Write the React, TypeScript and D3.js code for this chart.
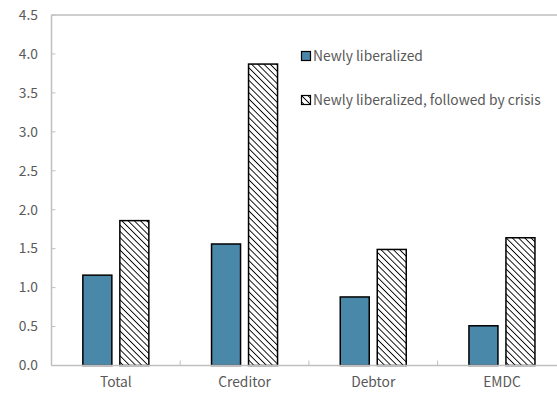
import React from "react";
import * as d3 from "d3";

const categories = ["Total", "Creditor", "Debtor", "EMDC"];
const newlyLiberalized = [1.16, 1.56, 0.88, 0.51];
const followedByCrisis = [1.86, 3.87, 1.49, 1.64];
const yTicks = [0, 0.5, 1, 1.5, 2, 2.5, 3, 3.5, 4, 4.5];
const seriesNames = ["Newly liberalized", "Newly liberalized, followed by crisis"];

const W = 557;
const H = 400;
const left = 51.5;
const top = 15;
const bottom = 365.5;
const right = left + 4 * 128.7;

export default function App() {
  const x = d3.scaleBand<string>().domain(categories).range([left, right]).paddingInner(0).paddingOuter(0);
  const y = d3.scaleLinear().domain([0, 4.5]).range([bottom, top]);
  const bw = 29;
  const gap = 8;
  const font = "'Noto Sans CJK KR', 'Noto Sans', sans-serif";
  const textColor = "#595959";
  const axisColor = "#bfbfbf";
  const blue = "#4a88aa";
  const fs = 13.8;

  return (
    <svg width={W} height={H} style={{ position: "absolute", left: 0, top: 0 }}>
      <defs>
        <pattern id="hatch" patternUnits="userSpaceOnUse" width="4.4" height="4.4" patternTransform="rotate(-45)">
          <rect width="4.4" height="4.4" fill="white" />
          <line x1="0" y1="0" x2="0" y2="4.4" stroke="black" strokeWidth="1.8" />
        </pattern>
      </defs>
      <rect width={W} height={H} fill="white" />
      <line x1={left} x2={W + 20} y1={top} y2={top} stroke={axisColor} strokeWidth={1.5} />
      <line x1={left} x2={left} y1={top} y2={bottom} stroke={axisColor} strokeWidth={1.5} />
      {yTicks.map((t) => (
        <g key={t}>
          <line x1={left} x2={left + 4} y1={y(t)} y2={y(t)} stroke={axisColor} strokeWidth={1} />
          <text x={38} y={y(t)} dy="0.35em" textAnchor="end" fontFamily={font} fontSize={fs} fill={textColor}>
            {t.toFixed(1)}
          </text>
        </g>
      ))}
      {categories.map((c, i) => {
        const cx = (x(c) as number) + x.bandwidth() / 2;
        return (
          <g key={c}>
            <rect x={cx - gap / 2 - bw} y={y(newlyLiberalized[i])} width={bw} height={bottom - y(newlyLiberalized[i])} fill={blue} stroke="black" strokeWidth={1.5} />
            <rect x={cx + gap / 2} y={y(followedByCrisis[i])} width={bw} height={bottom - y(followedByCrisis[i])} fill="url(#hatch)" stroke="black" strokeWidth={1.5} />
            <text x={cx} y={387} textAnchor="middle" fontFamily={font} fontSize={fs} fill={textColor}>
              {c}
            </text>
          </g>
        );
      })}
      <line x1={left} x2={W + 20} y1={bottom} y2={bottom} stroke={axisColor} strokeWidth={1.5} />
      {categories.slice(1).map((c) => (
        <line key={c} x1={x(c) as number} x2={x(c) as number} y1={bottom} y2={bottom - 5} stroke={axisColor} strokeWidth={1} />
      ))}
      <rect x={301.5} y={51.5} width={9} height={9} fill={blue} stroke="black" strokeWidth={1.2} />
      <text x={313} y={56} dy="0.35em" fontFamily={font} fontSize={fs} fill={textColor}>{seriesNames[0]}</text>
      <rect x={301.5} y={95.5} width={9} height={9} fill="url(#hatch)" stroke="black" strokeWidth={1.2} />
      <text x={313} y={100} dy="0.35em" fontFamily={font} fontSize={fs} fill={textColor}>{seriesNames[1]}</text>
    </svg>
  );
}
